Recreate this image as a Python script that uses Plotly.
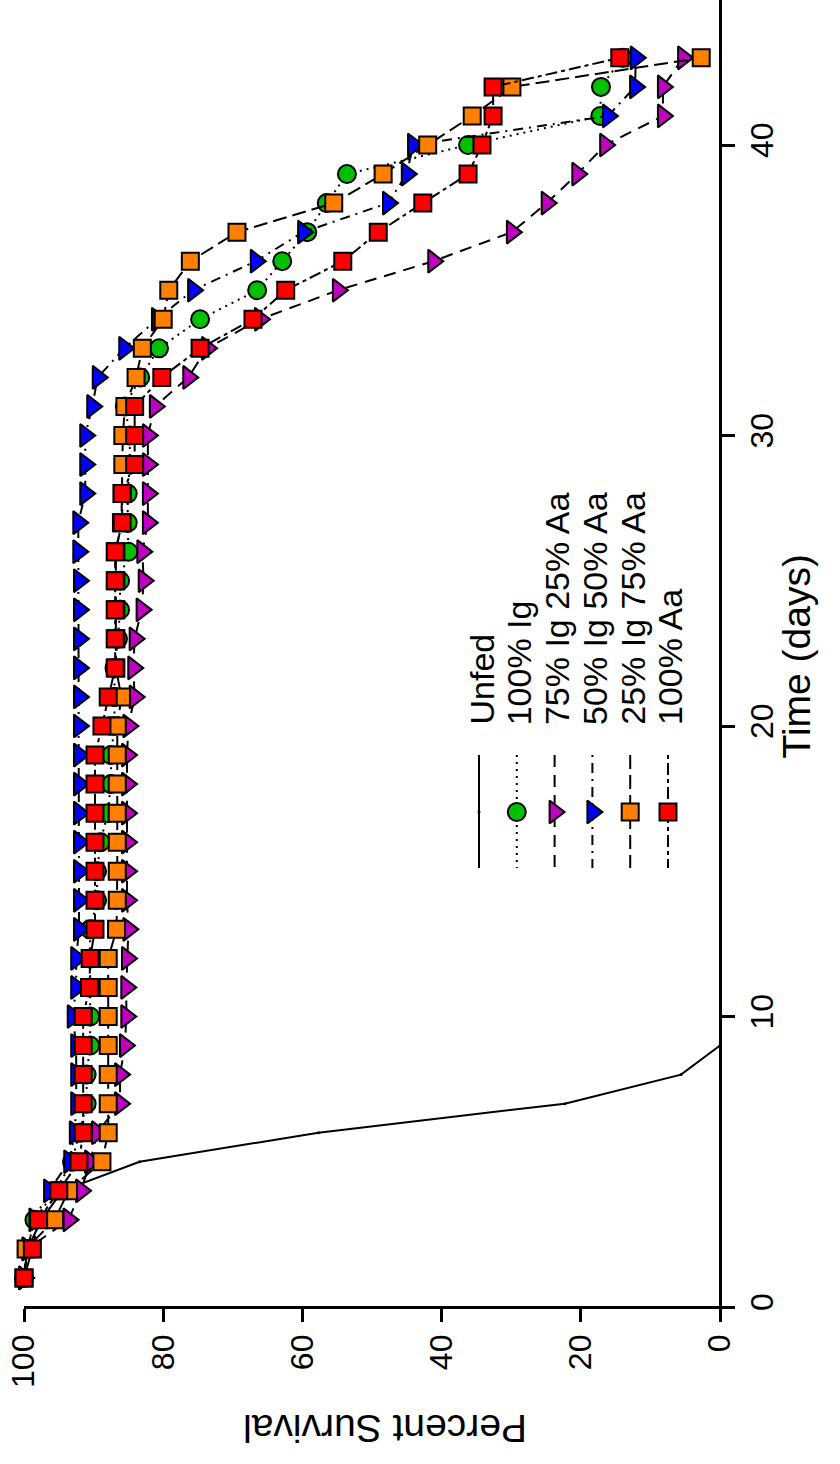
import plotly.graph_objects as go

# ---------------- data ----------------
days = list(range(1, 44))
unfed_days = list(range(1, 10))
unfed = [100, 99.5, 97.5, 94.5, 83.4, 57.7, 22.3, 5.6, 0]

ig100 = [100, 99.5, 98.5, 95.5, 93.1, 92.0, 91.0, 91.0, 90.5, 90.5,
         90.5, 90.5, 90.5, 89.5, 89.5, 89.0, 88.0, 87.5, 87.5, 87.0,
         87.0, 87.0, 86.5, 86.2, 86.2, 85.0, 85.1, 85.1, 84.8, 84.8,
         85.5, 83.3, 80.6, 74.7, 66.5, 62.9, 59.3, 56.5, 53.6, 36.2,
         17.2, 17.1, 14.0]
ig75_aa25 = [100, 99.5, 93.6, 91.8, 90.5, 89.5, 86.2, 86.2, 85.5, 85.3,
             85.3, 85.2, 85.0, 85.2, 85.2, 85.2, 85.2, 85.2, 85.2, 85.0,
             84.1, 84.3, 84.1, 83.1, 82.8, 83.0, 82.2, 82.2, 82.2, 82.2,
             81.2, 76.4, 73.7, 66.1, 54.9, 41.2, 29.9, 24.9, 20.5, 16.5,
             8.2, 8.2, 5.3]
ig50_aa50 = [100, 99.5, 98.5, 96.4, 93.5, 92.7, 92.5, 92.5, 92.5, 93.0,
             92.5, 92.5, 92.1, 92.1, 92.1, 92.1, 92.1, 92.1, 92.1, 92.1,
             92.1, 92.1, 92.1, 92.1, 92.1, 92.2, 92.2, 91.2, 91.2, 91.2,
             90.2, 89.4, 85.6, 80.9, 75.7, 66.7, 59.9, 47.7, 45.0, 44.1,
             16.1, 12.2, 12.1]
ig25_aa75 = [100, 99.7, 95.6, 93.6, 88.8, 87.9, 87.9, 87.9, 87.9, 87.9,
             87.9, 87.9, 86.7, 86.6, 86.6, 86.6, 86.6, 86.6, 86.6, 86.6,
             86.0, 86.8, 86.8, 86.8, 86.8, 86.8, 86.0, 85.9, 85.8, 85.8,
             85.5, 83.9, 83.0, 80.0, 79.2, 76.1, 69.4, 55.5, 48.4, 42.0,
             35.6, 29.9, 2.7]
aa100 = [100, 98.8, 97.9, 95.0, 92.1, 91.5, 91.5, 91.5, 91.5, 91.5,
         90.6, 90.5, 89.8, 89.8, 89.8, 89.8, 89.8, 89.8, 89.8, 88.8,
         87.9, 86.9, 86.9, 86.9, 86.9, 86.9, 85.9, 85.9, 84.1, 84.1,
         84.1, 80.2, 74.7, 67.1, 62.4, 54.2, 49.1, 42.7, 36.2, 34.2,
         32.6, 32.6, 14.4]

series_names = ["Unfed", "100% Ig", "75% Ig 25% Aa", "50% Ig 50% Aa",
                "25% Ig 75% Aa", "100% Aa"]
pct_ticks = [0, 20, 40, 60, 80, 100]
day_ticks = [0, 10, 20, 30, 40]

# ---------------- styles ----------------
FONT = "Liberation Sans, Arial, sans-serif"
colors = [None, "#00C000", "#C000C0", "#0000FF", "#FF8000", "#FF0000"]
symbols = [None, "circle", "triangle-right", "triangle-right", "square", "square"]
sizes = [3, 18, 20, 20, 17, 17]
dashes = ["solid", "2px,5px", "12px,8px", "2px,6px,10px,6px", "14px,6px", "4px,4px,12px,4px"]
LW = 2

W, H = 840, 1464
ML, MR, MT, MB = 24, 108, 0, 144
PW, PH = W - ML - MR, H - MT - MB

# pixel geometry of the rotated chart
X100, PX_PER_PCT = 24, 6.96       # percent axis (horizontal, reversed)
Y0, PX_PER_DAY = 1307, 29.05      # time axis (vertical)
X0 = X100 + 100 * PX_PER_PCT      # pixel x of 0 %


def paper_x(px):
    return (px - ML) / PW


def paper_y(py):
    return (MT + PH - py) / PH


fig = go.Figure()

all_series = [(unfed_days, unfed)] + [(days, s) for s in
                                      (ig100, ig75_aa25, ig50_aa50, ig25_aa75, aa100)]
for i, (t, v) in enumerate(all_series):
    if i == 0:
        marker = dict(size=3, color="black")
    else:
        marker = dict(size=sizes[i], color=colors[i], symbol=symbols[i],
                      line=dict(color="black", width=2))
    fig.add_trace(go.Scatter(
        x=v, y=t, mode="lines+markers", name=series_names[i],
        line=dict(color="black", width=LW, dash=dashes[i]),
        marker=marker, showlegend=False, cliponaxis=False))

# ---------------- legend (drawn in pixel overlay axes) ----------------
leg_x0, leg_dx = 479, 37.8
leg_line_top, leg_line_bot, leg_sym_y, leg_text_y = 755, 868, 812, 727
for i, name in enumerate(series_names):
    lx = leg_x0 + i * leg_dx
    fig.add_trace(go.Scatter(
        x=[lx, lx], y=[leg_line_top, leg_line_bot], mode="lines",
        line=dict(color="black", width=LW, dash=dashes[i]),
        xaxis="x2", yaxis="y2", showlegend=False, hoverinfo="skip"))
    if i == 0:
        m = dict(size=3, color="black")
    else:
        m = dict(size=sizes[i], color=colors[i], symbol=symbols[i],
                 line=dict(color="black", width=2))
    fig.add_trace(go.Scatter(
        x=[lx], y=[leg_sym_y], mode="markers", marker=m,
        xaxis="x2", yaxis="y2", showlegend=False, hoverinfo="skip"))
    fig.add_annotation(
        x=paper_x(lx + 2), y=paper_y(leg_text_y), xref="paper", yref="paper",
        text=name, showarrow=False, textangle=-90,
        xanchor="center", yanchor="bottom",
        font=dict(family=FONT, size=34, color="black"))

# ---------------- axis titles ----------------
fig.add_annotation(x=paper_x(819), y=paper_y(656), xref="paper", yref="paper",
                   text="Time (days)", showarrow=False, textangle=-90,
                   font=dict(family=FONT, size=39, color="black"))
fig.add_annotation(x=paper_x(385), y=paper_y(1452), xref="paper", yref="paper",
                   text="Percent Survival", showarrow=False, textangle=180,
                   font=dict(family=FONT, size=39, color="black"))

x_left_val = 100
x_right_val = 100 - (ML + PW - X100) / PX_PER_PCT
y_bot_val = (Y0 - (MT + PH)) / PX_PER_DAY
y_top_val = (Y0 - MT) / PX_PER_DAY

fig.update_layout(
    width=W, height=H,
    margin=dict(l=ML, r=MR, t=MT, b=MB, pad=0),
    paper_bgcolor="white", plot_bgcolor="white",
    showlegend=False,
    xaxis=dict(range=[x_left_val, x_right_val], anchor="free",
               position=paper_y(Y0), tickvals=pct_ticks,
               ticktext=[str(v) for v in pct_ticks], tickangle=-90,
               showline=True, linecolor="black", linewidth=2.5,
               ticks="outside", ticklen=13, tickwidth=2.5, tickcolor="black",
               showgrid=False, zeroline=False,
               tickfont=dict(family=FONT, size=32, color="black")),
    yaxis=dict(range=[y_bot_val, y_top_val], anchor="free", side="right",
               position=paper_x(X0), tickvals=day_ticks,
               ticktext=[str(v) for v in day_ticks], tickangle=-90,
               showline=True, linecolor="black", linewidth=2.5,
               ticks="outside", ticklen=13, tickwidth=2.5, tickcolor="black",
               showgrid=False, zeroline=False,
               tickfont=dict(family=FONT, size=32, color="black")),
    xaxis2=dict(overlaying="x", range=[ML, ML + PW], visible=False,
                anchor="y2", domain=[0, 1]),
    yaxis2=dict(overlaying="y", range=[MT + PH, MT], visible=False,
                anchor="x2", domain=[0, 1]),
)

fig.write_html("out.html", config={"displayModeBar": False},
               post_script="document.body.style.margin='0px';")
